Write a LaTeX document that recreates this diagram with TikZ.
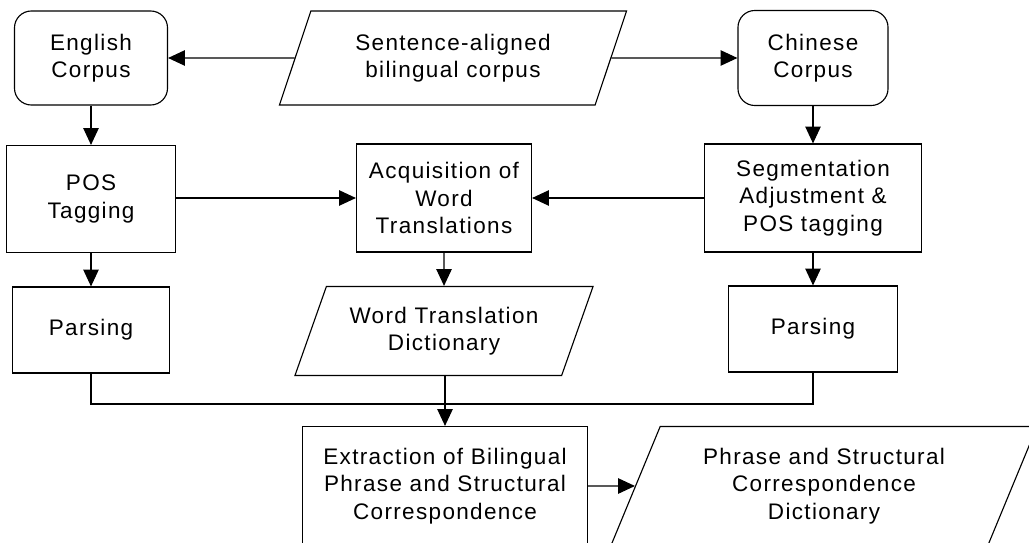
\documentclass[tikz,border=0pt]{standalone}
\usepackage{fontspec}
\setmainfont{Liberation Sans}[LetterSpace=6]
\usetikzlibrary{shapes.geometric, arrows.meta}

\begin{document}
\begin{tikzpicture}[x=0.025cm, y=-0.025cm, line width=0.8pt,
          font=\fontsize{16}{19.5}\selectfont,
          box/.style={draw, align=center, inner sep=0pt},
          corpus/.style={box, rounded corners=12pt},
          datafile/.style={box, trapezium, trapezium left angle=57,
            trapezium right angle=123, trapezium stretches body},
          flow/.style={-{Triangle[length=12pt, width=11pt]}},
        ]
          \useasboundingbox (0,0) rectangle (1029,543);
          \clip (0,0) rectangle (1029,543);
          % top row
          \node[corpus, minimum width=3.825cm, minimum height=2.35cm]  (eng)  at ( 91,  58) {English\\Corpus};
          \node[datafile, minimum width=8.675cm, minimum height=2.35cm] (sent) at (453,  58) {Sentence-aligned\\bilingual corpus};
          \node[corpus, minimum width=3.75cm, minimum height=2.375cm]  (chi)  at (813,  58) {Chinese\\Corpus};
          % second row
          \node[box, minimum width=4.225cm, minimum height=2.675cm] (pos)  at ( 91, 199) {POS\\Tagging};
          \node[box, minimum width=4.375cm, minimum height=2.7cm]   (acq)  at (444, 198) {Acquisition of\\Word\\Translations};
          \node[box, minimum width=5.425cm, minimum height=2.7cm]   (seg)  at (813, 198) {Segmentation\\Adjustment \&\\POS tagging};
          % third row
          \node[box, minimum width=3.925cm, minimum height=2.15cm]  (parsL) at ( 91, 330) {Parsing};
          \node[datafile, minimum width=7.45cm, minimum height=2.225cm] (wtd) at (444, 331) {Word Translation\\Dictionary};
          \node[box, minimum width=4.225cm, minimum height=2.15cm]  (parsR) at (813, 329) {Parsing};
          % bottom row
          \node[box, minimum width=7.125cm, minimum height=2.975cm] (ext) at (445, 486) {Extraction of Bilingual\\Phrase and Structural\\Correspondence};
          \node[datafile, minimum width=10.65cm, minimum height=2.975cm] (phr) at (824, 486) {Phrase and Structural\\Correspondence\\Dictionary};
          \coordinate (join) at (445, 404);
          % connectors
          \draw[flow] (sent) -- (eng);
          \draw[flow] (sent) -- (chi);
          \draw[flow] (eng) -- (pos);
          \draw[flow] (chi) -- (seg);
          \draw[flow] (pos.east |- acq) -- (acq);
          \draw[flow] (seg.west |- acq) -- (acq);
          \draw[flow] (pos) -- (parsL);
          \draw[flow] (acq) -- (wtd);
          \draw[flow] (seg) -- (parsR);
          \draw (parsL) |- (join) -| (parsR);
          \draw[flow] (wtd.south -| ext.north) -- (ext);
          \draw[flow] (ext) -- (phr);
        \end{tikzpicture}
\end{document}
